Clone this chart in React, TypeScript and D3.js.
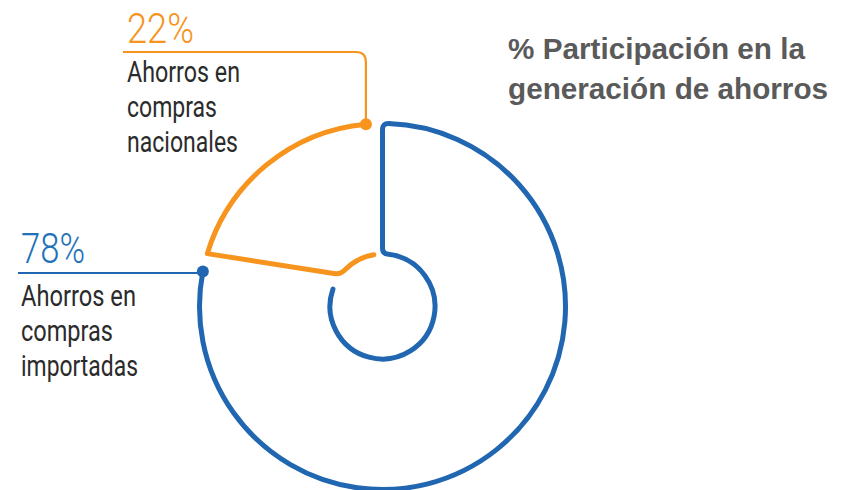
import React from "react";
import * as d3 from "d3";

// ---- data ----
const categories = ["Ahorros en compras importadas", "Ahorros en compras nacionales"];
const values = [78, 22];
const labelLines = [
  ["Ahorros en", "compras", "importadas"],
  ["Ahorros en", "compras", "nacionales"],
];
const titleLines = ["% Participación en la", "generación de ahorros"];

// ---- style ----
const W = 852;
const H = 490;
const colors = ["#2166B0", "#F7941D"];
const pctColors = ["#1F72BA", "#F7941D"];
const textColor = "#2b2b2b";
const titleColor = "#5a5a5a";
const cx = 382.5;
const cy = 306.5;
const R = 183;
const r = 52.5;
const deg = Math.PI / 180;
const condensed = "Roboto, 'Noto Sans', sans-serif";

// label blocks (layout)
const labelLayout = [
  { x: 21, pctY: 263, lineY: 273, firstY: 306, pctLen: 64, lens: [115, 92, 117], leaderEnd: 18 },
  { x: 127, pctY: 43, lineY: 52, firstY: 82, pctLen: 67, lens: [113, 90, 111], leaderEnd: 123 },
];

const toXY = (a: number, rad: number): [number, number] => [cx + rad * Math.sin(a), cy - rad * Math.cos(a)];
const sa = (a: number) => a - Math.PI / 2;

export default function App() {
  const arcs = d3.pie<number>().sort(null)(values);
  const A = arcs[0];
  const B = arcs[1];
  const c = 6;

  // blue slice: outer arc, start edge, inner arc (open outline)
  const blueOuterEnd = A.endAngle + 0.2 * deg;
  const pb = d3.path();
  const b0 = toXY(blueOuterEnd, R);
  pb.moveTo(b0[0], b0[1]);
  pb.arc(cx, cy, R, sa(blueOuterEnd), sa(A.startAngle + c / R), true);
  const bc1 = toXY(A.startAngle, R);
  const bc1b = toXY(A.startAngle, R - c);
  pb.quadraticCurveTo(bc1[0], bc1[1], bc1b[0], bc1b[1]);
  const bc2a = toXY(A.startAngle, r + c);
  pb.lineTo(bc2a[0], bc2a[1]);
  const bc2 = toXY(A.startAngle, r);
  const bc2b = toXY(A.startAngle + c / r, r);
  pb.quadraticCurveTo(bc2[0], bc2[1], bc2b[0], bc2b[1]);
  pb.arc(cx, cy, r, sa(A.startAngle + c / r), sa(A.endAngle + 8.5 * deg), false);

  // orange slice
  const orangeOuterStart = B.endAngle - 5.2 * deg;
  const orangeOuterEnd = B.startAngle + 6 * deg;
  const orangeInnerStart = B.startAngle + 26.5 * deg;
  const orangeInnerEnd = B.endAngle - 9.5 * deg;
  const po = d3.path();
  const o0 = toXY(orangeOuterStart, R);
  po.moveTo(o0[0], o0[1]);
  po.arc(cx, cy, R, sa(orangeOuterStart), sa(orangeOuterEnd), true);
  const Po = toXY(orangeOuterEnd, R);
  const Pi = toXY(orangeInnerStart, r);
  const dx = Pi[0] - Po[0];
  const dy = Pi[1] - Po[1];
  const len = Math.hypot(dx, dy);
  const f = 7;
  po.lineTo(Pi[0] - (f * dx) / len, Pi[1] - (f * dy) / len);
  const Pib = toXY(orangeInnerStart + f / r, r);
  po.quadraticCurveTo(Pi[0], Pi[1], Pib[0], Pib[1]);
  po.arc(cx, cy, r, sa(orangeInnerStart + f / r), sa(orangeInnerEnd), false);

  const dots = [toXY(blueOuterEnd, R), toXY(orangeOuterStart, R)];

  // leaders
  const lb = labelLayout[0];
  const lo = labelLayout[1];
  const blueLeader = `M${dots[0][0]},${dots[0][1]} L${dots[0][0]},${lb.lineY} L${lb.leaderEnd},${lb.lineY}`;
  const cr = 10;
  const orangeLeader = `M${dots[1][0]},${dots[1][1]} L${dots[1][0]},${lo.lineY + cr} Q${dots[1][0]},${lo.lineY} ${dots[1][0] - cr},${lo.lineY} L${lo.leaderEnd},${lo.lineY}`;

  return (
    <svg width={W} height={H} style={{ position: "absolute", left: 0, top: 0, background: "#fff" }}>
      <g fill="none" strokeLinecap="round" strokeLinejoin="round">
        <path d={pb.toString()} stroke={colors[0]} strokeWidth={5} />
        <path d={po.toString()} stroke={colors[1]} strokeWidth={5} />
        <path d={blueLeader} stroke={colors[0]} strokeWidth={2.2} strokeLinecap="butt" />
        <path d={orangeLeader} stroke={colors[1]} strokeWidth={2.2} strokeLinecap="butt" />
      </g>
      {dots.map((d, i) => (
        <circle key={i} cx={d[0]} cy={d[1]} r={6} fill={colors[i]} />
      ))}
      {values.map((v, i) => {
        const L = labelLayout[i];
        return (
          <g key={categories[i]} fontFamily={condensed} fontWeight={400}>
            <text x={L.x} y={L.pctY} fontSize={42} fontWeight={300} fill={pctColors[i]} textLength={L.pctLen} lengthAdjust="spacingAndGlyphs">
              {`${v}%`}
            </text>
            {labelLines[i].map((t, j) => (
              <text key={j} x={L.x} y={L.firstY + j * 35} fontSize={30} fill={textColor} textLength={L.lens[j]} lengthAdjust="spacingAndGlyphs">
                {t}
              </text>
            ))}
          </g>
        );
      })}
      {titleLines.map((t, i) => (
        <text key={i} x={508} y={59.3 + i * 40} fontFamily="'Liberation Sans', Arial, sans-serif" fontWeight="bold" fontSize={29.7} fill={titleColor}>
          {t}
        </text>
      ))}
    </svg>
  );
}
